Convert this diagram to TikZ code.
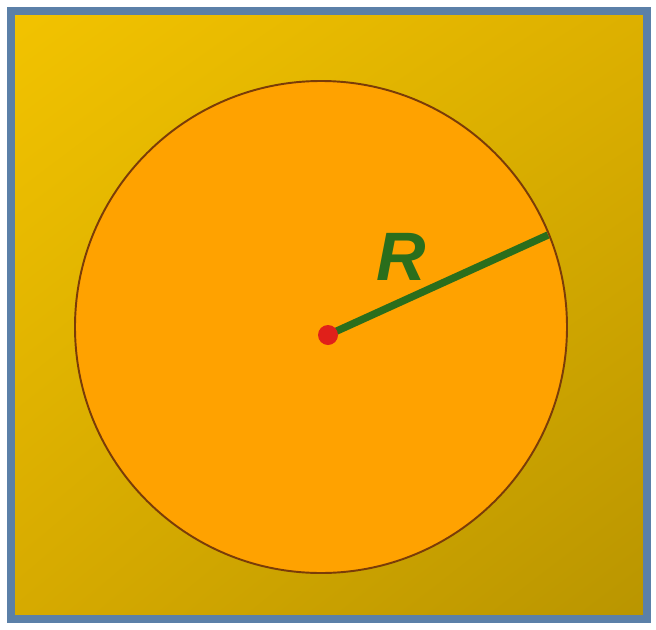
\documentclass[tikz,border=0pt]{standalone}
\usepackage{fontspec}
\setmainfont{Liberation Sans}
\usetikzlibrary{shadings}
\definecolor{frameblue}{HTML}{5B80A8}
\definecolor{goldA}{HTML}{F2C300}
\definecolor{goldB}{HTML}{DDB000}
\definecolor{goldC}{HTML}{D6AA00}
\definecolor{goldD}{HTML}{B99500}
\definecolor{discfill}{HTML}{FFA200}
\definecolor{discedge}{HTML}{7A3C08}
\definecolor{radgreen}{HTML}{2A6E1C}
\definecolor{dotred}{HTML}{E0201A}
\begin{document}
\begin{tikzpicture}[
    x=0.02cm,
    y=-0.02cm,
    radius line/.style={radgreen, line width=4.2pt},
    disc edge/.style={discedge, line width=1.1pt, fill=discfill}
]

% Canvas
\useasboundingbox[fill=white] (0,0) rectangle (656,629);

% Background and frame
\shade[upper left=goldA, upper right=goldB, lower left=goldC, lower right=goldD]
    (11,11) rectangle (647,619);
\draw[frameblue, line width=5.1pt] (11,11) rectangle (647,619);

% Circle
\coordinate (C) at (321,327);
\coordinate (O) at (328,335);
\draw[disc edge] (C) circle (246);

% Radius
\coordinate (A) at (548,235);
\draw[radius line] (O) -- (A);
\fill[dotred] (O) circle (10);
\node[radgreen, font=\fontsize{39}{40}\selectfont\bfseries\itshape] (lbl) at (401,257) {R};

\end{tikzpicture}
\end{document}
